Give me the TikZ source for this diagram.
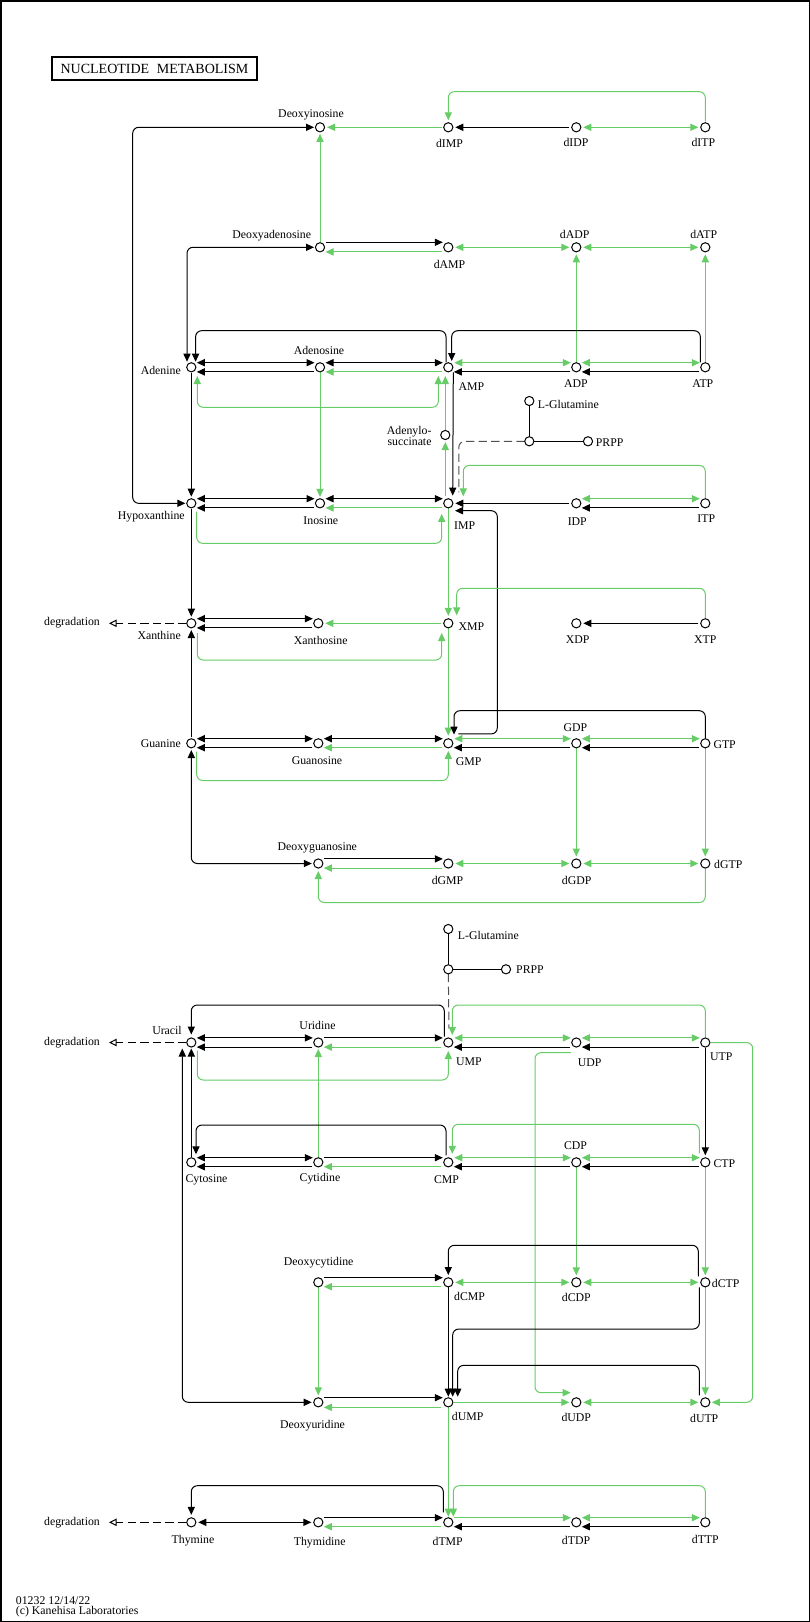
\documentclass[tikz,border=0pt]{standalone}
\usepackage{fontspec}
\setmainfont{Liberation Serif}
\usetikzlibrary{arrows.meta,calc,backgrounds}
\definecolor{kgreen}{RGB}{102,204,102}
\definecolor{kdash}{RGB}{80,80,80}
\begin{document}
\begin{tikzpicture}[x=1pt,y=-1pt,
  cpd/.style={circle,draw,fill=white,line width=1pt,inner sep=0pt,minimum size=9.2pt,outer sep=0pt},
  lbl/.style={inner sep=0pt,font=\fontsize{11.8}{11}\selectfont},
  blk/.style={draw=black,line width=1pt},
  grn/.style={draw=kgreen,line width=1pt},
  ar/.style={-{Triangle[length=8pt,width=7.2pt]}},
  arr/.style={{Triangle[length=8pt,width=7.2pt]}-{Triangle[length=8pt,width=7.2pt]}},
  rc/.style={rounded corners=6pt},
  glu/.style={draw=kdash,line width=1pt,dash pattern=on 8.3pt off 4.3pt},
  degr/.style={draw=black,line width=1pt,dash pattern=on 8.3pt off 4.3pt,-{Triangle[open,length=7.7pt,width=7.5pt,fill=white]}}
]
\useasboundingbox (0,0) rectangle (810,1622);
\draw[line width=1.5pt] (0.75,0.75) rectangle (809.25,1621.25);
\node[draw,line width=1.6pt,minimum width=205.4pt,minimum height=23.4pt,inner sep=0pt,font=\fontsize{14}{14}\selectfont] (title) at (154.5,68.5) {NUCLEOTIDE\hspace{0.55em}METABOLISM};

% compounds
\foreach \n/\x/\y in {dIno/320/127.3,dIMP/448.3/127.3,dIDP/576.3/127.3,dITP/705.3/127.3,
  dAdo/320/247.3,dAMP/448.3/247.3,dADP/576.3/247.3,dATP/705.3/247.3,
  Ade/191.3/367.3,Ado/320/367.3,AMP/448.3/367.3,ADP/576.3/367.3,ATP/705.3/367.3,
  GlnA/529.3/401,JA/529.3/441.3,PRPPA/588/441.3,AdS/445.3/435,
  Hyp/191.3/503.3,Ino/320/503.3,IMP/448.3/503.3,IDP/576.3/503.3,ITP/705.3/503.3,
  Xan/191.3/623.3,Xao/318.3/623.3,XMP/448.3/623.3,XDP/576.3/623.3,XTP/705.3/623.3,
  Gua/191.3/743.3,Guo/318.3/743.3,GMP/448.3/743.3,GDP/576.3/743.3,GTP/705.3/743.3,
  dGuo/318.3/863.5,dGMP/448.3/863.5,dGDP/576.3/863.5,dGTP/705.3/863.5,
  GlnB/448.3/929,JB/448.3/969.3,PRPPB/506/969.3,
  Ura/191.3/1042.5,Urd/318.3/1042.5,UMP/448.3/1042.5,UDP/576.3/1042.5,UTP/705.3/1042.5,
  Cyt/191.3/1162.3,Cyd/318.3/1162.3,CMP/448.3/1162.3,CDP/576.3/1162.3,CTP/705.3/1162.3,
  dCyd/318.3/1282.3,dCMP/448.3/1282.3,dCDP/576.3/1282.3,dCTP/705.3/1282.3,
  dUrd/318.3/1402.3,dUMP/448.3/1402.3,dUDP/576.3/1402.3,dUTP/705.3/1402.3,
  Thy/191.3/1522.3,Thd/318.3/1522.3,dTMP/448.3/1522.3,dTDP/576.3/1522.3,dTTP/705.3/1522.3}
  \node[cpd] (\n) at (\x,\y) {};

\coordinate (degX) at (109,623.3);
\coordinate (degU) at (109,1042.5);
\coordinate (degT) at (109,1522.3);

% labels
\node[lbl] (lbdIno) at (311,115.3) {Deoxyinosine};
\node[lbl] (lbdIMP) at (449.5,143.3) {dIMP};
\node[lbl] (lbdIDP) at (576,142.3) {dIDP};
\node[lbl] (lbdITP) at (703.3,142.3) {dITP};
\node[lbl] (lbdAdo) at (271.7,236) {Deoxyadenosine};
\node[lbl] (lbdAMP) at (449.5,264.3) {dAMP};
\node[lbl] (lbdADP) at (574.7,234.3) {dADP};
\node[lbl] (lbdATP) at (703.7,234.3) {dATP};
\node[lbl,anchor=east] (lbAde) at (181,370) {Adenine};
\node[lbl] (lbAdo) at (319,350.7) {Adenosine};
\node[lbl,anchor=west] (lbAMP) at (458.3,386.7) {AMP};
\node[lbl] (lbADP) at (576,384) {ADP};
\node[lbl] (lbATP) at (702.8,383.3) {ATP};
\node[lbl,anchor=west] (lbGlnA) at (537.7,404.3) {L-Glutamine};
\node[lbl,anchor=west] (lbPRPPA) at (595.7,442.3) {PRPP};
\node[lbl,anchor=east,align=right] (lbAdS) at (431.7,436.2) {Adenylo-\\succinate};
\node[lbl] (lbHyp) at (151.3,516.7) {Hypoxanthine};
\node[lbl] (lbIno) at (320.8,520.7) {Inosine};
\node[lbl,anchor=west] (lbIMP) at (454,525.7) {IMP};
\node[lbl] (lbIDP) at (577.3,521.7) {IDP};
\node[lbl] (lbITP) at (706.3,519) {ITP};
\node[lbl] (lbdegX) at (72,622.7) {degradation};
\node[lbl,anchor=east] (lbXan) at (181,635.7) {Xanthine};
\node[lbl] (lbXao) at (320.7,640) {Xanthosine};
\node[lbl,anchor=west] (lbXMP) at (458.3,626.7) {XMP};
\node[lbl] (lbXDP) at (577.7,640) {XDP};
\node[lbl] (lbXTP) at (705.2,639.3) {XTP};
\node[lbl,anchor=east] (lbGua) at (181,744) {Guanine};
\node[lbl] (lbGuo) at (317,760.7) {Guanosine};
\node[lbl,anchor=west] (lbGMP) at (455.7,761.7) {GMP};
\node[lbl] (lbGDP) at (575.5,727.7) {GDP};
\node[lbl,anchor=west] (lbGTP) at (713.3,744.3) {GTP};
\node[lbl] (lbdGuo) at (317.3,847.7) {Deoxyguanosine};
\node[lbl] (lbdGMP) at (447.5,880) {dGMP};
\node[lbl] (lbdGDP) at (576.7,880) {dGDP};
\node[lbl,anchor=west] (lbdGTP) at (714,864.3) {dGTP};
\node[lbl,anchor=west] (lbGlnB) at (457.7,935) {L-Glutamine};
\node[lbl,anchor=west] (lbPRPPB) at (516,969.3) {PRPP};
\node[lbl] (lbdegU) at (72,1042.7) {degradation};
\node[lbl] (lbUra) at (167,1030.7) {Uracil};
\node[lbl] (lbUrd) at (317.5,1025.7) {Uridine};
\node[lbl,anchor=west] (lbUMP) at (456,1061.7) {UMP};
\node[lbl] (lbUDP) at (589.7,1062.7) {UDP};
\node[lbl,anchor=west] (lbUTP) at (710,1056.7) {UTP};
\node[lbl] (lbCyt) at (206.5,1180) {Cytosine};
\node[lbl] (lbCyd) at (320,1179) {Cytidine};
\node[lbl] (lbCMP) at (446.5,1180) {CMP};
\node[lbl] (lbCDP) at (575.5,1145.7) {CDP};
\node[lbl,anchor=west] (lbCTP) at (713.3,1164) {CTP};
\node[lbl] (lbdCyd) at (318.7,1262.7) {Deoxycytidine};
\node[lbl,anchor=west] (lbdCMP) at (454,1296.7) {dCMP};
\node[lbl] (lbdCDP) at (576.3,1297.3) {dCDP};
\node[lbl,anchor=west] (lbdCTP) at (711.7,1283.3) {dCTP};
\node[lbl] (lbdUrd) at (312.5,1426) {Deoxyuridine};
\node[lbl,anchor=west] (lbdUMP) at (451.7,1416.7) {dUMP};
\node[lbl] (lbdUDP) at (576.3,1417.3) {dUDP};
\node[lbl] (lbdUTP) at (704.2,1418.3) {dUTP};
\node[lbl] (lbdegT) at (72,1522.7) {degradation};
\node[lbl] (lbThy) at (193,1540.7) {Thymine};
\node[lbl] (lbThd) at (319.7,1542.7) {Thymidine};
\node[lbl] (lbdTMP) at (447.7,1541) {dTMP};
\node[lbl] (lbdTDP) at (576,1540) {dTDP};
\node[lbl] (lbdTTP) at (705.3,1539.3) {dTTP};
\node[lbl,anchor=west] (foot1) at (15.7,1600.7) {01232 12/14/22};
\node[lbl,anchor=west] (foot2) at (15.7,1611.7) {(c) Kanehisa Laboratories};

\begin{scope}[on background layer]
% row 1
\draw[grn,ar] ($(dIMP)+(-6,0)$) -- ($(dIno)+(7,0)$);
\draw[blk,ar] ($(dIDP)+(-7,0)$) -- ($(dIMP)+(7,0)$);
\draw[grn,arr] ($(dIDP)+(7,0)$) -- ($(dITP)+(-7,0)$);
\draw[grn,ar,rc] ($(dITP)+(0,-6)$) -- ++(0,-29.6) -| ($(dIMP)+(0,-7)$);
\draw[blk,arr,rc] ($(Hyp)+(-6,0)$) -- ++(-52.6,0) |- ($(dIno)+(-6,0)$);
\draw[grn,ar] ($(dAdo)+(0,-5)$) -- ($(dIno)+(0,6.5)$);
% row 2
\draw[blk,ar] ($(dAdo)+(6,-5)$) -- ($(dAMP)+(-5.5,-5)$);
\draw[grn,ar] ($(dAMP)+(-6,4.6)$) -- ($(dAdo)+(5.5,4.6)$);
\draw[grn,arr] ($(dAMP)+(7,0)$) -- ($(dADP)+(-7,0)$);
\draw[grn,arr] ($(dADP)+(7,0)$) -- ($(dATP)+(-7,0)$);
\draw[grn,ar] ($(ADP)+(0,-5)$) -- ($(dADP)+(0,7)$);
\draw[grn,ar] ($(ATP)+(0,-5)$) -- ($(dATP)+(0,7)$);
\draw[blk,arr,rc] ($(Ade)+(-4.3,-5.6)$) |- ($(dAdo)+(-6,0)$);
% row 3
\draw[blk,arr] ($(Ade)+(5.5,-4.6)$) -- ($(Ado)+(-5.5,-4.6)$);
\draw[blk,ar] ($(Ado)+(-6,4.6)$) -- ($(Ade)+(5.5,4.6)$);
\draw[blk,arr] ($(Ado)+(5.5,-4.6)$) -- ($(AMP)+(-5.5,-4.6)$);
\draw[grn,ar] ($(AMP)+(-6.5,4.6)$) -- ($(Ado)+(5.5,4.6)$);
\draw[grn,arr,rc] ($(Ade)+(6,8.7)$) -- ++(0,31.3) -| ($(AMP)+(-10,8.7)$);
\draw[grn,ar] ($(AdS)+(0,-5)$) -- ($(AMP)+(-3,8.7)$);
\draw[grn,ar] ($(IMP)+(-3,-7)$) -- ($(AdS)+(0,7)$);
\draw[blk,ar,rc] ($(ATP)+(-5,-5)$) -- ++(0,-31.6) -| ($(AMP)+(3.4,-6.3)$);
\draw[blk,ar,rc] ($(AMP)+(-2.3,-5)$) -- ++(0,-31.6) -| ($(Ade)+(4.3,-5.6)$);
\draw[blk,ar] ($(AMP)+(5,5)$) -- ($(IMP)+(4.4,-7.7)$);
\draw[grn,arr] ($(AMP)+(6,-4.6)$) -- ($(ADP)+(-5.5,-4.6)$);
\draw[blk,ar] ($(ADP)+(-6,4.6)$) -- ($(AMP)+(5.5,4.6)$);
\draw[grn,arr] ($(ADP)+(5.5,-4.6)$) -- ($(ATP)+(-5.5,-4.6)$);
\draw[blk,ar] ($(ATP)+(-6,4.6)$) -- ($(ADP)+(5.5,4.6)$);
% glutamine / PRPP (purine)
\draw[blk] (GlnA.south) -- (JA.north);
\draw[blk] (JA.east) -- (PRPPA.west);
\draw[glu,rc] (JA.west) -| ($(IMP)+(10.5,-11)$);
% row 4
\draw[blk,ar] ($(Ade)+(0,5.6)$) -- ($(Hyp)+(0,-6.6)$);
\draw[blk,ar] ($(Hyp)+(0,5.6)$) -- ($(Xan)+(0,-6.6)$);
\draw[blk,arr] ($(Hyp)+(5.5,-4.6)$) -- ($(Ino)+(-5.5,-4.6)$);
\draw[blk,ar] ($(Ino)+(-6,4.6)$) -- ($(Hyp)+(5.5,4.6)$);
\draw[blk,arr] ($(Ino)+(5.5,-4.6)$) -- ($(IMP)+(-5.5,-4.6)$);
\draw[grn,ar] ($(IMP)+(-6.5,4.6)$) -- ($(Ino)+(5.5,4.6)$);
\draw[grn,ar] ($(Ado)+(0,5)$) -- ($(Ino)+(0,-6.5)$);
\draw[grn,ar,rc] ($(Hyp)+(5.4,8.4)$) -- ++(0,31.6) -| ($(IMP)+(-6.6,10.6)$);
\draw[blk,ar] ($(IDP)+(-7,0)$) -- ($(IMP)+(7,0)$);
\draw[grn,arr] ($(IDP)+(5.5,-4.6)$) -- ($(ITP)+(-5.5,-4.6)$);
\draw[blk,ar] ($(ITP)+(-6,4.6)$) -- ($(IDP)+(5.5,4.6)$);
\draw[grn,ar,rc] ($(ITP)+(0,-5)$) -- ++(0,-32.9) -| ($(IMP)+(15,-7)$);
\draw[blk,ar,rc] ($(GMP)+(10,-9.4)$) -- ++(39,0) |- ($(IMP)+(6.7,7.4)$);
% row 5
\draw[degr] ($(Xan)+(-5,0)$) -- (degX);
\draw[blk,arr] ($(Xan)+(5.5,-4.6)$) -- ($(Xao)+(-5.5,-4.6)$);
\draw[blk,ar] ($(Xao)+(-6,4.6)$) -- ($(Xan)+(5.5,4.6)$);
\draw[grn,ar] ($(XMP)+(-7,0)$) -- ($(Xao)+(7,0)$);
\draw[grn,ar,rc] ($(Xan)+(6,9.7)$) -- ++(0,27) -| ($(XMP)+(-6.6,9.7)$);
\draw[blk,ar] ($(Gua)+(0,-6)$) -- ($(Xan)+(0,6.7)$);
\draw[grn,ar] ($(IMP)+(0,5)$) -- ($(XMP)+(0,-7.5)$);
\draw[grn,ar,rc] ($(XTP)+(0,-5)$) -- ++(0,-30) -| ($(XMP)+(8.4,-8)$);
\draw[blk,ar] ($(XTP)+(-7,0)$) -- ($(XDP)+(7,0)$);
\draw[grn,ar] ($(XMP)+(0,5)$) -- ($(GMP)+(0,-7.7)$);
% row 6
\draw[blk,arr] ($(Gua)+(5.5,-4.6)$) -- ($(Guo)+(-5.5,-4.6)$);
\draw[blk,ar] ($(Guo)+(-6,4.4)$) -- ($(Gua)+(5.5,4.4)$);
\draw[blk,arr] ($(Guo)+(5.5,-4.6)$) -- ($(GMP)+(-5.5,-4.6)$);
\draw[grn,ar] ($(GMP)+(-6.6,4.4)$) -- ($(Guo)+(5.5,4.4)$);
\draw[grn,ar,rc] ($(Gua)+(5.4,8.4)$) -- ++(0,28.8) -| ($(GMP)+(0,7.6)$);
\draw[blk,arr,rc] ($(Gua)+(0,6.7)$) |- ($(dGuo)+(-6.5,0)$);
\draw[grn,arr] ($(GMP)+(6,-4.6)$) -- ($(GDP)+(-5.5,-4.6)$);
\draw[blk,ar] ($(GDP)+(-6,4.4)$) -- ($(GMP)+(5.5,4.4)$);
\draw[grn,arr] ($(GDP)+(5.5,-4.6)$) -- ($(GTP)+(-5.5,-4.6)$);
\draw[blk,ar] ($(GTP)+(-6,4.4)$) -- ($(GDP)+(5.5,4.4)$);
\draw[blk,ar,rc] ($(GTP)+(0,-5)$) -- ++(0,-27.6) -| ($(GMP)+(5.7,-8.7)$);
\draw[grn,ar] ($(GDP)+(0,5)$) -- ($(dGDP)+(0,-7)$);
\draw[grn,ar] ($(GTP)+(0,5)$) -- ($(dGTP)+(0,-7)$);
% row 7
\draw[blk,ar] ($(dGuo)+(6,-4.6)$) -- ($(dGMP)+(-5.5,-4.6)$);
\draw[grn,ar] ($(dGMP)+(-6,4.6)$) -- ($(dGuo)+(5.5,4.6)$);
\draw[grn,arr] ($(dGMP)+(7,0)$) -- ($(dGDP)+(-7,0)$);
\draw[grn,arr] ($(dGDP)+(7,0)$) -- ($(dGTP)+(-7,0)$);
\draw[grn,ar,rc] ($(dGTP)+(0,5)$) -- ++(0,34) -| ($(dGuo)+(0,7.5)$);
% glutamine / PRPP (pyrimidine)
\draw[blk] (GlnB.south) -- (JB.north);
\draw[blk] (JB.east) -- (PRPPB.west);
\draw[glu] (JB.south) -- ($(UMP)+(0.7,-14)$);
% row 8
\draw[degr] ($(Ura)+(-5,0)$) -- (degU);
\draw[blk,arr] ($(Ura)+(5.5,-4.6)$) -- ($(Urd)+(-5.5,-4.6)$);
\draw[blk,ar] ($(Urd)+(-6,4.6)$) -- ($(Ura)+(5.5,4.6)$);
\draw[blk,ar] ($(Urd)+(6,-4.6)$) -- ($(UMP)+(-5.5,-4.6)$);
\draw[grn,ar] ($(UMP)+(-7,4.6)$) -- ($(Urd)+(5.5,4.6)$);
\draw[blk,ar,rc] ($(UMP)+(-4,-6)$) -- ++(0,-31.5) -| ($(Ura)+(0,-8)$);
\draw[grn,ar,rc] ($(UTP)+(0,-5)$) -- ++(0,-32.5) -| ($(UMP)+(4,-7.5)$);
\draw[grn,ar,rc] ($(Ura)+(6,8)$) -- ++(0,29.5) -| ($(UMP)+(0,8.5)$);
\draw[grn,arr] ($(UMP)+(6,-4.6)$) -- ($(UDP)+(-5.5,-4.6)$);
\draw[blk,ar] ($(UDP)+(-6,4.6)$) -- ($(UMP)+(5.5,4.6)$);
\draw[grn,arr] ($(UDP)+(5.5,-4.6)$) -- ($(UTP)+(-5.5,-4.6)$);
\draw[blk,ar] ($(UTP)+(-6,4.6)$) -- ($(UDP)+(5.5,4.6)$);
\draw[grn,ar,rc] ($(UDP)+(-5.3,10.2)$) -- ++(-36,0) |- ($(dUDP)+(-5.6,-9.6)$);
\draw[grn,ar,rc] ($(UTP)+(5,0)$) -- ++(42.4,0) |- ($(dUTP)+(6.5,0)$);
\draw[blk,ar] ($(UTP)+(0,5)$) -- ($(CTP)+(0,-7)$);
% row 9
\draw[blk,arr] ($(Cyt)+(5.5,-4.6)$) -- ($(Cyd)+(-5.5,-4.6)$);
\draw[blk,ar] ($(Cyd)+(-6,4.4)$) -- ($(Cyt)+(5.5,4.4)$);
\draw[blk,ar] ($(Cyd)+(6,-4.6)$) -- ($(CMP)+(-5.5,-4.6)$);
\draw[grn,ar] ($(CMP)+(-7,4.4)$) -- ($(Cyd)+(5.5,4.4)$);
\draw[grn,ar] ($(Cyd)+(0,-5)$) -- ($(Urd)+(0,6.5)$);
\draw[blk,ar] ($(Cyt)+(0,-5)$) -- ($(Ura)+(0,6)$);
\draw[blk,ar,rc] ($(CMP)+(-2.3,-7)$) -- ++(0,-30.3) -| ($(Cyt)+(4.7,-8)$);
\draw[blk,arr,rc] ($(Ura)+(-9,6)$) |- ($(dUrd)+(-6.6,0)$);
\draw[grn,arr] ($(CMP)+(6,-4.6)$) -- ($(CDP)+(-5.5,-4.6)$);
\draw[blk,ar] ($(CDP)+(-6,4.4)$) -- ($(CMP)+(5.5,4.4)$);
\draw[grn,arr] ($(CDP)+(5.5,-4.6)$) -- ($(CTP)+(-5.5,-4.6)$);
\draw[blk,ar] ($(CTP)+(-6,4.4)$) -- ($(CDP)+(5.5,4.4)$);
\draw[grn,ar,rc] ($(CTP)+(-6,-9)$) -- ++(0,-29) -| ($(CMP)+(4,-8.5)$);
\draw[grn,ar] ($(CDP)+(0,5)$) -- ($(dCDP)+(0,-7)$);
\draw[grn,ar] ($(CTP)+(0,5)$) -- ($(dCTP)+(0,-7)$);
% row 10
\draw[blk,ar] ($(dCyd)+(6,-4.6)$) -- ($(dCMP)+(-5.5,-4.6)$);
\draw[grn,ar] ($(dCMP)+(-7,4.4)$) -- ($(dCyd)+(5.5,4.4)$);
\draw[grn,ar] ($(dCyd)+(0,5)$) -- ($(dUrd)+(0,-7)$);
\draw[grn,arr] ($(dCMP)+(7,0)$) -- ($(dCDP)+(-7,0)$);
\draw[grn,arr] ($(dCDP)+(7,0)$) -- ($(dCTP)+(-7,0)$);
\draw[blk,ar,rc] ($(dCTP)+(-7,-6)$) -- ++(0,-31) -| ($(dCMP)+(0,-7.3)$);
\draw[blk,ar] ($(dCMP)+(0,5)$) -- ($(dUMP)+(0,-5.6)$);
\draw[blk,ar,rc] ($(dCTP)+(-6,5)$) -- ++(0,41.7) -| ($(dUMP)+(4.4,-5.6)$);
\draw[blk,ar,rc] ($(dUTP)+(-6,-7)$) -- ++(0,-30) -| ($(dUMP)+(9.4,-5.6)$);
\draw[grn,ar] ($(dCTP)+(0,5)$) -- ($(dUTP)+(0,-7)$);
% row 11
\draw[blk,ar] ($(dUrd)+(6,-4.6)$) -- ($(dUMP)+(-5.5,-4.6)$);
\draw[grn,ar] ($(dUMP)+(-7,5)$) -- ($(dUrd)+(5.5,5)$);
\draw[grn,ar] ($(dUMP)+(6,0)$) -- ($(dUDP)+(-7,0)$);
\draw[grn,arr] ($(dUDP)+(7,0)$) -- ($(dUTP)+(-7,0)$);
\draw[grn,ar] ($(dUMP)+(0,5)$) -- ($(dTMP)+(0,-5.6)$);
% row 12
\draw[degr] ($(Thy)+(-5,0)$) -- (degT);
\draw[blk,arr] ($(Thy)+(7,0)$) -- ($(Thd)+(-7,0)$);
\draw[blk,ar] ($(Thd)+(6,-4.6)$) -- ($(dTMP)+(-5.5,-4.6)$);
\draw[grn,ar] ($(dTMP)+(-7,4.4)$) -- ($(Thd)+(5.5,4.4)$);
\draw[blk,ar,rc] ($(dTMP)+(-5,-10)$) -- ++(0,-26.6) -| ($(Thy)+(0,-7.5)$);
\draw[grn,ar,rc] ($(dTTP)+(0,-5)$) -- ++(0,-31.6) -| ($(dTMP)+(5,-5.6)$);
\draw[grn,ar] ($(dTMP)+(6,-4.6)$) -- ($(dTDP)+(-5.5,-4.6)$);
\draw[blk,ar] ($(dTDP)+(-6,4.4)$) -- ($(dTMP)+(5.5,4.4)$);
\draw[grn,arr] ($(dTDP)+(5.5,-4.6)$) -- ($(dTTP)+(-5.5,-4.6)$);
\draw[blk,ar] ($(dTTP)+(-6,4.4)$) -- ($(dTDP)+(5.5,4.4)$);
\end{scope}
\end{tikzpicture}
\end{document}
